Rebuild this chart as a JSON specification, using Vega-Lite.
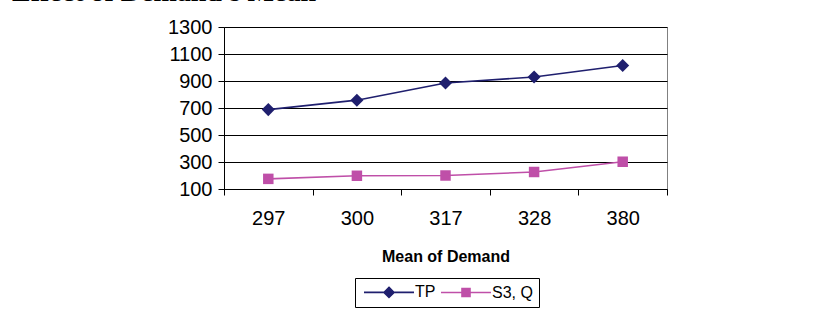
{
  "$schema": "https://vega.github.io/schema/vega-lite/v6.json",
  "width": 443,
  "height": 162,
  "autosize": {"type": "none"},
  "padding": {"left": 224, "top": 27, "right": 173, "bottom": 125},
  "background": "white",
  "title": {
    "text": "Effect of Demand's Mean",
    "anchor": "start",
    "frame": "group",
    "orient": "top",
    "font": "Liberation Serif",
    "fontSize": 28,
    "fontWeight": "bold",
    "color": "black",
    "baseline": "alphabetic",
    "offset": 13,
    "dx": -212,
    "dy": 25
  },
  "config": {
    "view": {"stroke": "#808080", "strokeWidth": 1},
    "font": "Liberation Sans"
  },
  "data": {
    "values": [
      {"mean": "297", "series": "TP", "value": 688},
      {"mean": "300", "series": "TP", "value": 758},
      {"mean": "317", "series": "TP", "value": 885},
      {"mean": "328", "series": "TP", "value": 930},
      {"mean": "380", "series": "TP", "value": 1015},
      {"mean": "297", "series": "S3, Q", "value": 175},
      {"mean": "300", "series": "S3, Q", "value": 198},
      {"mean": "317", "series": "S3, Q", "value": 200},
      {"mean": "328", "series": "S3, Q", "value": 226},
      {"mean": "380", "series": "S3, Q", "value": 302}
    ]
  },
  "encoding": {
    "x": {
      "field": "mean",
      "type": "ordinal",
      "sort": null,
      "bandPosition": 0.5,
      "scale": {"type": "band", "paddingInner": 0, "paddingOuter": 0},
      "axis": {
        "title": "Mean of Demand",
        "labelAngle": 0,
        "labelFontSize": 20,
        "labelColor": "black",
        "labelPadding": 13,
        "tickSize": 6,
        "tickBand": "extent",
        "tickColor": "black",
        "domainColor": "black",
        "grid": false,
        "titleFontSize": 16,
        "titleFontWeight": "bold",
        "titleColor": "black",
        "titlePadding": 20
      }
    },
    "y": {
      "field": "value",
      "type": "quantitative",
      "scale": {"domain": [100, 1300], "nice": false, "zero": false},
      "axis": {
        "title": null,
        "format": "d",
        "values": [100, 300, 500, 700, 900, 1100, 1300],
        "labelFontSize": 20,
        "labelColor": "black",
        "labelPadding": 6,
        "tickSize": 6,
        "tickColor": "black",
        "domainColor": "black",
        "gridColor": "black",
        "gridOpacity": 1
      }
    },
    "color": {
      "field": "series",
      "type": "nominal",
      "scale": {"domain": ["TP", "S3, Q"], "range": ["#1f1f6e", "#bf4fa8"]},
      "legend": {
        "title": null,
        "orient": "none",
        "legendX": 131,
        "legendY": 251,
        "direction": "horizontal",
        "strokeColor": "black",
        "padding": 6,
        "labelFontSize": 16,
        "labelFont": "Liberation Sans",
        "labelColor": "black",
        "symbolSize": 100,
        "symbolOffset": 20,
        "labelOffset": 18,
        "columnPadding": 1,
        "symbolStrokeWidth": 1.6,
        "encode": {
          "symbols": {
            "update": {
              "shape": {"signal": "datum.value == 'TP' ? 'M-5,0H5M0,-1L1,0L0,1L-1,0Z' : 'M-5,0H5M-0.8,-0.8H0.8V0.8H-0.8Z'"},
              "fill": {"signal": "datum.value == 'TP' ? '#1f1f6e' : '#bf4fa8'"},
              "stroke": {"signal": "datum.value == 'TP' ? '#1f1f6e' : '#bf4fa8'"},
              "opacity": {"value": 1},
              "fillOpacity": {"value": 1},
              "strokeWidth": {"value": 1.6}
            }
          }
        }
      }
    }
  },
  "layer": [
    {
      "mark": {"type": "line", "strokeWidth": 1.6}
    },
    {
      "transform": [{"filter": "datum.series == 'TP'"}],
      "mark": {"type": "point", "filled": true, "opacity": 1, "shape": "diamond", "size": 170}
    },
    {
      "transform": [{"filter": "datum.series == 'S3, Q'"}],
      "mark": {"type": "point", "filled": true, "opacity": 1, "shape": "square", "size": 110}
    }
  ]
}
